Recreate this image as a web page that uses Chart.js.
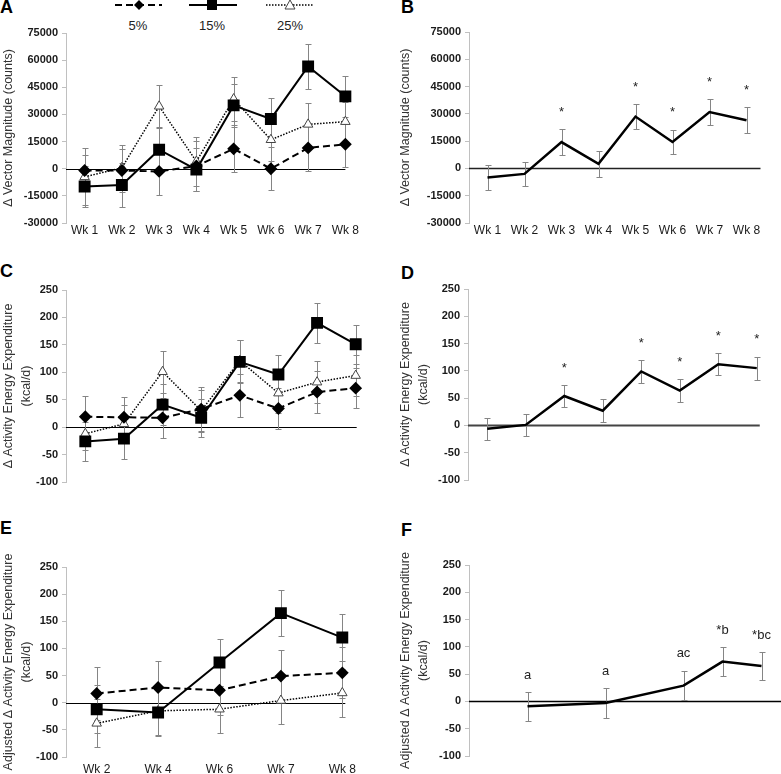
<!DOCTYPE html>
<html>
<head>
<meta charset="utf-8">
<script src="https://cdn.jsdelivr.net/npm/chart.js@4.4.1/dist/chart.umd.min.js"></script>
<style>
  body { margin: 0; background: #fff; }
  #page { position: relative; width: 781px; height: 774px; overflow: hidden; font-family: 'Liberation Sans', Arial, sans-serif; }
  canvas { position: absolute; }
  .tag { position: absolute; font-weight: bold; font-size: 18px; color: #000; }
  .lg { position: absolute; font-size: 13px; color: #222; transform: translateX(-50%); }
</style>
</head>
<body>
<div id="page">
  <svg style="position:absolute;left:0;top:0" width="400" height="14">
    <line x1="115" y1="5" x2="162" y2="5" stroke="#000" stroke-width="2" stroke-dasharray="7 4"/>
    <polygon points="139,0 144,5 139,10 134,5" fill="#000"/>
    <line x1="189" y1="5" x2="237" y2="5" stroke="#000" stroke-width="2"/>
    <rect x="207" y="0" width="10" height="10" fill="#000"/>
    <line x1="266" y1="5" x2="313" y2="5" stroke="#000" stroke-width="1.5" stroke-dasharray="1.5 1.5"/>
    <polygon points="290,0 295,9 285,9" fill="#fff" stroke="#444" stroke-width="1"/>
  </svg>
  <div class="lg" style="left:138px;top:18px">5%</div>
  <div class="lg" style="left:212px;top:18px">15%</div>
  <div class="lg" style="left:290px;top:18px">25%</div>

  <div class="tag" style="left:0;top:-3px">A</div>
  <div class="tag" style="left:401px;top:-3px">B</div>
  <div class="tag" style="left:0;top:261px">C</div>
  <div class="tag" style="left:401px;top:263px">D</div>
  <div class="tag" style="left:0;top:518px">E</div>
  <div class="tag" style="left:401px;top:520px">F</div>

  <canvas id="cA" width="400" height="255" style="left:0;top:0"></canvas>
  <canvas id="cB" width="384" height="255" style="left:397px;top:0"></canvas>
  <canvas id="cC" width="400" height="255" style="left:0;top:255px"></canvas>
  <canvas id="cD" width="384" height="255" style="left:397px;top:255px"></canvas>
  <canvas id="cE" width="400" height="264" style="left:0;top:510px"></canvas>
  <canvas id="cF" width="384" height="264" style="left:397px;top:510px"></canvas>
</div>
<script>
// week labels
const weeks = ["Wk 1", "Wk 2", "Wk 3", "Wk 4", "Wk 5", "Wk 6", "Wk 7", "Wk 8"];
const weeksAdj = ["Wk 2", "Wk 4", "Wk 6", "Wk 7", "Wk 8"];
const weekNumsAdj = [2, 4, 6, 7, 8];
const doses = ["5%", "15%", "25%"];

// A: vector magnitude by dose
const vmA5 = [-1000, -1000, -1500, 1500, 11000, 0, 11500, 13500];
const vmA15 = [-9800, -9000, 10500, -500, 35000, 27500, 56500, 40000];
const vmA25 = [-4500, 500, 34500, 4000, 38500, 16000, 24500, 26000];
const vmA5Err = [8500, 12000, 13000, 14000, 13000, 12000, 12500, 12500];
const vmA15Err = [11300, 12000, 12500, 12000, 12000, 11500, 12500, 11500];
const vmA25Err = [15700, 12500, 12000, 13500, 12000, 12000, 12000, 11000];

// B: vector magnitude pooled
const vmB = [-5000, -3000, 14500, 2500, 28500, 14500, 31000, 26500];
const vmBErr = [7000, 6800, 7000, 7000, 6800, 6800, 7000, 7000];
const sigB = ["", "", "*", "", "*", "*", "*", "*"];

// C: activity energy expenditure by dose
const aeeC5 = [19, 18, 17, 33, 58, 34, 64, 71];
const aeeC15 = [-26, -21, 41, 17, 119, 96, 190, 151];
const aeeC25 = [-12, 6, 101, 30, 121, 62, 82, 94];
const aeeC5Err = [37, 37, 37, 40, 39, 37, 38, 37];
const aeeC15Err = [35, 37, 37, 35, 39, 35, 36, 36];
const aeeC25Err = [30, 35, 38, 38, 38, 36, 38, 37];

// D: activity energy expenditure pooled
const aeeD = [-6, 1, 54, 27, 99, 64, 112, 105];
const aeeDErr = [20, 20, 20, 21, 21, 21, 20, 21];
const sigD = ["", "", "*", "", "*", "*", "*", "*"];

// E: adjusted AEE by dose
const adjE5 = [17, 28, 23, 49, 55];
const adjE15 = [-12, -18, 74, 165, 120];
const adjE25 = [-38, -15, -12, 4, 18];
const adjE5Err = [48, 49, 45, 48, 47];
const adjE15Err = [44, 44, 44, 42, 44];
const adjE25Err = [44, 45, 43, 44, 45];

// F: adjusted AEE pooled
const adjF = [-9, -3, 29, 73, 65];
const adjFErr = [26, 27, 27, 26, 25];
const sigF = ["a", "a", "ac", "*b", "*bc"];

const FONT = "'Liberation Sans', Arial, sans-serif";
Chart.defaults.font.family = FONT;
Chart.defaults.animation = false;

const yOf = d => (d !== null && typeof d === "object") ? d.y : d;

// reference line at zero
const zeroLine = {
  id: "zeroLine",
  beforeDatasetsDraw(chart, args, opts) {
    const { ctx, chartArea } = chart;
    const y = Math.round(chart.scales.y.getPixelForValue(0)) + 0.5;
    const pts = chart.getDatasetMeta(0).data;
    const x1 = opts.extend === "right" ? chartArea.right : pts[pts.length - 1].x + (opts.extend || 0);
    ctx.save();
    ctx.strokeStyle = opts.color || "#000";
    ctx.lineWidth = opts.width || 1;
    ctx.beginPath();
    ctx.moveTo(chartArea.left, y);
    ctx.lineTo(x1, y);
    ctx.stroke();
    ctx.restore();
  }
};

// error bars read from dataset.errors
const errorBars = {
  id: "errorBars",
  beforeDatasetsDraw(chart) {
    const { ctx } = chart;
    const ys = chart.scales.y;
    chart.data.datasets.forEach((ds, i) => {
      if (!ds.errors) return;
      const meta = chart.getDatasetMeta(i);
      ctx.save();
      ctx.strokeStyle = "#858585";
      ctx.lineWidth = 1;
      meta.data.forEach((pt, j) => {
        const v = yOf(ds.data[j]), e = ds.errors[j];
        const top = Math.round(ys.getPixelForValue(v + e)) + 0.5;
        const bot = Math.round(ys.getPixelForValue(v - e)) + 0.5;
        const x = Math.round(pt.x) + 0.5;
        ctx.beginPath();
        ctx.moveTo(x, top); ctx.lineTo(x, bot);
        ctx.moveTo(x - 3, top); ctx.lineTo(x + 3, top);
        ctx.moveTo(x - 3, bot); ctx.lineTo(x + 3, bot);
        ctx.stroke();
      });
      ctx.restore();
    });
  }
};

// significance marks above the error bars
const sigMarks = {
  id: "sigMarks",
  afterDatasetsDraw(chart) {
    const { ctx } = chart;
    const ys = chart.scales.y;
    chart.data.datasets.forEach((ds, i) => {
      if (!ds.notes) return;
      const meta = chart.getDatasetMeta(i);
      ctx.save();
      ctx.fillStyle = "#222";
      ctx.font = "13px " + FONT;
      ctx.textAlign = "center";
      ctx.textBaseline = "middle";
      meta.data.forEach((pt, j) => {
        if (!ds.notes[j]) return;
        const top = ys.getPixelForValue(yOf(ds.data[j]) + ds.errors[j]);
        ctx.fillText(ds.notes[j], pt.x, top - 17);
      });
      ctx.restore();
    });
  }
};

function doseSet(i, data, errors) {
  const styles = [
    { borderWidth: 2, borderDash: [7, 4], pointStyle: "rectRot", pointRadius: 5,
      pointBackgroundColor: "#000", pointBorderColor: "#000" },
    { borderWidth: 2, borderDash: [], pointStyle: "rect", pointRadius: 7,
      pointBackgroundColor: "#000", pointBorderColor: "#000" },
    { borderWidth: 1.5, borderDash: [1.5, 1.5], pointStyle: "triangle", pointRadius: 5.5,
      pointBackgroundColor: "#fff", pointBorderColor: "#444", pointBorderWidth: 1 }
  ];
  return Object.assign({ label: doses[i], data, errors, borderColor: "#000", tension: 0, fill: false }, styles[i]);
}

function pooledSet(data, errors, notes) {
  return { label: "all", data, errors, notes, borderColor: "#000", borderWidth: 2.5,
           pointRadius: 0, tension: 0, fill: false };
}

function yAxis(min, max, step, title, width) {
  return {
    min, max,
    ticks: { stepSize: step, color: "#1a1a1a", padding: 4,
             font: { size: 11, weight: "bold" }, callback: v => String(v) },
    grid: { drawOnChartArea: false, drawTicks: true, tickLength: 4, color: "#c0c0c0" },
    border: { color: "#c0c0c0", width: 1 },
    title: { display: true, text: title, color: "#333", padding: 0,
             font: { size: 12.5, lineHeight: 1.4 } },
    afterFit: s => { s.width = width; }
  };
}

function xCategory(pad, height) {
  return {
    type: "category", offset: true,
    grid: { display: false, drawTicks: false },
    border: { display: false },
    ticks: { color: "#1a1a1a", font: { size: 12 }, padding: pad, maxRotation: 0, autoSkip: false },
    afterFit: s => { s.height = height; }
  };
}

function makeChart(id, w, h, area, labels, datasets, xScale, yScale, zero) {
  return new Chart(document.getElementById(id), {
    type: "line",
    data: { labels, datasets },
    options: {
      responsive: false,
      layout: { padding: { top: area.top, right: w - area.right, bottom: 0, left: 0 } },
      scales: { x: xScale, y: yScale },
      plugins: { legend: { display: false }, tooltip: { enabled: false }, zeroLine: zero }
    },
    plugins: [zeroLine, errorBars, sigMarks]
  });
}

const vmTitle = "\u0394 Vector Magnitude (counts)";
const aeeTitle = ["\u0394 Activity Energy Expenditure", "(kcal/d)"];
const adjTitle = ["Adjusted \u0394 Activity Energy Expenditure", "(kcal/d)"];

// A
makeChart("cA", 400, 255, { top: 33, right: 364, bottom: 223 }, weeks,
  [doseSet(0, vmA5, vmA5Err), doseSet(1, vmA15, vmA15Err), doseSet(2, vmA25, vmA25Err)],
  xCategory(0, 255 - 223), yAxis(-30000, 75000, 15000, vmTitle, 66),
  { extend: 0, width: 1, color: "#000" });

// B
makeChart("cB", 384, 255, { top: 32, right: 368, bottom: 223 }, weeks,
  [pooledSet(vmB, vmBErr, sigB)],
  xCategory(0, 255 - 223), yAxis(-30000, 75000, 15000, vmTitle, 72),
  { extend: 14, width: 1.5, color: "#222" });

// C
makeChart("cC", 400, 255, { top: 35, right: 375, bottom: 227 }, weeks,
  [doseSet(0, aeeC5, aeeC5Err), doseSet(1, aeeC15, aeeC15Err), doseSet(2, aeeC25, aeeC25Err)],
  xCategory(-13, 255 - 227), yAxis(-100, 250, 50, aeeTitle, 66),
  { extend: 1, width: 1, color: "#000" });

// D
makeChart("cD", 384, 255, { top: 34, right: 379, bottom: 225 }, weeks,
  [pooledSet(aeeD, aeeDErr, sigD)],
  xCategory(-12, 255 - 225), yAxis(-100, 250, 50, aeeTitle, 71),
  { extend: 3, width: 2, color: "#444" });

// E
makeChart("cE", 400, 264, { top: 57, right: 373, bottom: 247 }, weeksAdj,
  [doseSet(0, adjE5, adjE5Err), doseSet(1, adjE15, adjE15Err), doseSet(2, adjE25, adjE25Err)],
  xCategory(5, 264 - 247), yAxis(-100, 250, 50, adjTitle, 66),
  { extend: 3, width: 1, color: "#000" });

// F: weeks on a linear axis
const xF = {
  type: "linear", min: 0.5, max: 8.5, offset: false,
  grid: { display: false, drawTicks: false },
  border: { display: false },
  afterBuildTicks: s => { s.ticks = weekNumsAdj.map(v => ({ value: v })); },
  ticks: { color: "#1a1a1a", font: { size: 12 }, padding: -15, maxRotation: 0, autoSkip: false,
           callback: v => weeksAdj[weekNumsAdj.indexOf(v)] },
  afterFit: s => { s.height = 264 - 246; }
};
makeChart("cF", 384, 264, { top: 55, right: 384, bottom: 246 }, [],
  [pooledSet(weekNumsAdj.map((w, i) => ({ x: w, y: adjF[i] })), adjFErr, sigF)],
  xF, yAxis(-100, 250, 50, adjTitle, 72),
  { extend: "right", width: 1.5, color: "#000" });
</script>
</body>
</html>
